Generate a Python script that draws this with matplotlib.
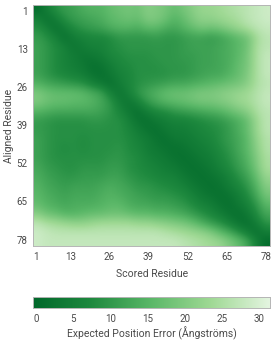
import numpy as np
import matplotlib
matplotlib.use("Agg")
import matplotlib.pyplot as plt
from matplotlib.colors import LinearSegmentedColormap

W, H = 276, 341
plt.rcParams['font.family'] = ['Roboto', 'DejaVu Sans']
TXT = '#4a4a4a'

tick_labels = ['1', '13', '26', '39', '52', '65', '78']
x_tick_pos = [1.2, 12.7, 25.4, 38.3, 51.3, 64.3, 77.3]
y_tick_pos = [2.3, 14.7, 27.0, 39.3, 51.6, 64.0, 76.4]
cbar_ticks = [0, 5, 10, 15, 20, 25, 30]
colors = ['#00682a', '#1f8a3f', '#5bb868', '#9fd994', '#e4f5e0']

r00 = [1,5,9,11,12,14,15,15,17,18,19,18,21,20,19,17,19,21,23,23,24,25,26,27,28,29]
r01 = [6,2,5,9,11,12,13,14,16,17,18,17,20,20,18,15,17,20,22,22,23,24,25,27,28,29]
r02 = [9,6,2,5,8,10,11,12,14,15,15,14,16,16,14,13,15,17,19,18,19,21,23,25,27,28]
r03 = [11,9,6,2,5,6,7,7,8,10,10,10,10,11,10,10,11,12,12,11,12,14,16,18,24,27]
r04 = [12,10,8,6,3,5,6,6,8,9,10,10,10,10,10,10,11,12,12,12,13,14,16,18,25,27]
r05 = [12,10,8,6,5,3,4,5,7,8,9,9,9,10,10,10,11,11,12,12,13,14,16,19,25,28]
r06 = [12,10,8,6,5,4,2,3,5,7,8,9,9,9,10,10,10,11,12,12,13,14,17,19,25,28]
r07 = [12,10,8,7,6,5,3,2,4,6,7,9,9,9,9,10,10,11,12,13,13,15,17,20,25,28]
r08 = [15,13,12,11,10,9,6,4,2,5,7,9,10,11,12,13,13,14,15,16,17,18,19,21,25,27]
r09 = [20,18,17,17,17,16,14,12,6,3,6,10,13,15,17,18,18,19,20,20,21,22,23,24,26,28]
r10 = [20,18,17,17,16,16,15,13,10,5,3,6,10,13,15,16,17,18,19,19,20,21,23,24,26,28]
r11 = [15,14,13,13,13,13,13,12,10,7,4,2,5,7,8,10,11,12,13,14,15,17,19,21,25,27]
r12 = [11,10,9,9,9,9,10,10,9,9,6,3,2,4,5,6,6,7,8,9,10,12,14,17,23,27]
r13 = [11,10,9,9,9,9,9,9,9,9,7,5,3,2,4,5,5,6,7,8,9,11,14,17,23,27]
r14 = [12,10,9,9,9,8,9,9,9,9,8,6,5,3,2,4,4,5,6,7,9,11,13,16,22,26]
r15 = [12,10,9,8,9,8,9,9,9,10,8,7,5,4,3,2,3,4,5,6,8,10,13,16,21,26]
r16 = [12,10,9,9,9,9,9,9,10,10,9,8,6,5,4,3,2,3,4,5,7,9,12,15,20,25]
r17 = [13,11,10,9,9,10,10,10,11,11,9,8,7,6,5,4,3,2,3,4,6,8,11,14,19,25]
r18 = [14,12,11,10,10,11,11,11,12,12,10,9,8,7,6,6,4,3,2,3,4,6,9,12,17,23]
r19 = [15,13,12,11,12,12,12,13,14,13,12,10,10,9,8,7,6,4,3,2,3,5,7,10,15,21]
r20 = [16,14,13,12,13,13,13,14,15,14,13,12,11,10,10,9,8,6,4,3,2,3,5,8,13,19]
r21 = [17,15,14,13,14,14,14,15,16,16,14,13,13,12,12,11,10,8,6,5,3,2,4,6,10,16]
r22 = [21,18,17,15,15,16,17,17,18,18,17,16,16,15,15,14,13,11,9,7,5,3,2,4,8,13]
r23 = [27,25,24,23,22,22,23,24,24,24,24,23,23,22,21,20,19,17,14,11,9,6,3,2,5,10]
r24 = [29,28,27,27,27,27,27,27,27,27,27,27,27,27,26,25,24,23,22,20,16,13,9,5,2,5]
r25 = [29,28,28,28,28,28,28,28,28,28,28,28,28,28,28,28,27,26,25,24,23,20,17,13,6,1]
pae = np.array([r00,r01,r02,r03,r04,r05,r06,r07,r08,r09,r10,r11,r12,
                r13,r14,r15,r16,r17,r18,r19,r20,r21,r22,r23,r24,r25], float)

cmap = LinearSegmentedColormap.from_list('pae', colors)
fig = plt.figure(figsize=(W/100, H/100), dpi=100)

def box(l, t, r, b):
    return [l/W, 1-b/H, (r-l)/W, (b-t)/H]

ax = fig.add_axes(box(33.3, 5, 270, 246))
ax.imshow(pae, cmap=cmap, vmin=0, vmax=31.75, extent=(0.5, 78.5, 78.5, 0.5),
          aspect='auto', interpolation='bicubic')
ax.set_xticks(x_tick_pos, tick_labels)
ax.set_yticks(y_tick_pos, tick_labels)
ax.tick_params(length=0, labelsize=7, labelcolor=TXT, pad=4)
ax.set_xlabel('Scored Residue', fontsize=7.5, color=TXT)
ax.xaxis.set_label_coords(0.5, -0.095)
ax.set_ylabel('Aligned Residue', fontsize=7.5, color=TXT)
ax.yaxis.set_label_coords(-0.08, 0.5)

cax = fig.add_axes(box(33.3, 297, 270, 308))
cax.imshow(np.linspace(0, 31.75, 256)[None, :], cmap=cmap, vmin=0, vmax=31.75,
           extent=(-0.4, 31.5, 0, 1), aspect='auto')
cax.set_yticks([])
cax.set_xticks(cbar_ticks, [str(t) for t in cbar_ticks])
cax.tick_params(length=0, labelsize=7, labelcolor=TXT, pad=4)
cax.set_xlabel('Expected Position Error (Ångströms)', fontsize=7.5, color=TXT, labelpad=2)

for a in (ax, cax):
    for s in a.spines.values():
        s.set_color('#b5b5b5')
        s.set_linewidth(0.7)

fig.savefig('out.png', dpi=100)
